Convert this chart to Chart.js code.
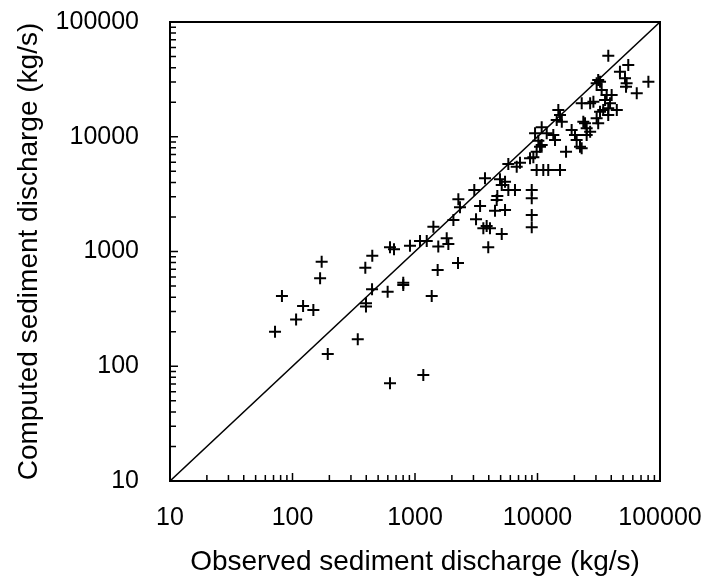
<!DOCTYPE html>
<html>
<head>
<meta charset="utf-8">
<script src="https://cdn.jsdelivr.net/npm/chart.js@4.4.1/dist/chart.umd.min.js"></script>
<style>
  html, body { margin: 0; padding: 0; background: #fff; }
  canvas { display: block; }
</style>
</head>
<body>
<canvas id="sediment-chart" width="710" height="587"></canvas>
<script>
// observed vs computed sediment discharge (kg/s)
const observed = [
    82, 72, 107, 122, 148, 173, 168, 194, 341, 393,
    448, 446, 398, 398, 598, 625, 674, 802, 802, 910,
    1099, 1247, 1369, 1531, 1169, 625, 1549, 1815, 1872, 2244,
    1413, 3963, 5106, 3846, 4093, 3613, 3149, 2058, 2259, 2329,
    3048, 3398, 3727, 4645, 4700, 4500, 4941, 5432, 5106, 5779,
    6549, 5432, 5779, 6765, 7197, 8974, 8974, 8974, 8974, 8690,
    9250, 9840, 11150, 12240, 15270, 9550, 10160, 10480, 9840, 10820,
    10820, 11890, 13460, 13900, 17100, 19000, 20230, 20870, 22230, 22940,
    24430, 25200, 37840, 55080, 47100, 80400, 64600, 51800, 53400, 52800,
    31300, 32400, 30400, 33400, 36700, 40300, 35600, 39100, 37800, 34400,
    44400, 37800, 28600, 26900, 22960, 14790, 15270, 14350, 15790, 32400,
    30400, 31300, 23660, 25200, 26900,
];
const computed = [
    409, 200, 256, 335, 309, 815, 584, 128, 172, 722,
    918, 469, 354, 331, 446, 1089, 1045, 535, 511, 1124,
    1236, 1236, 409, 690, 84, 71, 1103, 1303, 1161, 794,
    1645, 1089, 1422, 1667, 1592, 1592, 1910, 1884, 2851, 2427,
    3436, 2493, 4347, 2812, 3048, 2270, 4253, 4060, 3800, 3436,
    3436, 2301, 5800, 5490, 5940, 3436, 2911, 2080, 1624, 6490,
    6620, 5130, 5130, 5130, 5130, 10720, 9250, 8190, 7410, 8470,
    12080, 10720, 10350, 9370, 7410, 11450, 10350, 9370, 8190, 7930,
    13090, 10350, 50800, 42170, 36890, 30200, 23900, 32300, 29200, 27300,
    31300, 30200, 29200, 25500, 23100, 23100, 20900, 19540, 17680, 17100,
    17100, 15500, 20200, 19540, 19540, 17100, 15500, 14000, 13520, 16500,
    14500, 13100, 13520, 11870, 11070,
];

// 1:1 line
const lineObserved = [10, 100000];
const lineComputed = [10, 100000];

const decadeTicks = [10, 100, 1000, 10000, 100000];
const minorSteps  = [2, 3, 4, 5, 6, 7, 8, 9];

const FONT = "'Liberation Sans', Arial, sans-serif";

// inside tick marks + closed plot frame
const frameAndTicks = {
    id: 'frameAndTicks',
    afterDraw(chart) {
        const { ctx, chartArea: a, scales: { x, y } } = chart;
        ctx.save();
        ctx.strokeStyle = '#000';
        ctx.lineWidth = 1.5;
        const mark = (v, len) => {
            const px = x.getPixelForValue(v);
            const py = y.getPixelForValue(v);
            ctx.beginPath();
            ctx.moveTo(px, a.bottom);
            ctx.lineTo(px, a.bottom - len);
            ctx.moveTo(a.left, py);
            ctx.lineTo(a.left + len, py);
            ctx.stroke();
        };
        decadeTicks.forEach(d => {
            mark(d, 8);
            if (d < 100000) minorSteps.forEach(m => mark(d * m, 6));
        });
        ctx.lineWidth = 2;
        ctx.strokeRect(a.left, a.top, a.right - a.left, a.bottom - a.top);
        ctx.restore();
    },
};

const toPoints = (xs, ys) => xs.map((v, i) => ({ x: v, y: ys[i] }));

new Chart(document.getElementById('sediment-chart'), {
    type: 'scatter',
    data: {
        datasets: [
            {
                label: '1:1',
                data: toPoints(lineObserved, lineComputed),
                showLine: true,
                borderColor: '#000',
                borderWidth: 1.5,
                pointRadius: 0,
                fill: false,
            },
            {
                label: 'Sediment discharge',
                data: toPoints(observed, computed),
                pointStyle: 'cross',
                pointRadius: 6,
                pointBorderWidth: 2,
                borderColor: '#000',
                backgroundColor: '#000',
            },
        ],
    },
    options: {
        responsive: false,
        animation: false,
        devicePixelRatio: 1,
        layout: { padding: { top: 22, right: 50, bottom: 0, left: 0 } },
        scales: {
            x: {
                type: 'logarithmic',
                position: 'bottom',
                min: 10,
                max: 100000,
                grid: { display: false, drawTicks: false },
                border: { display: false },
                afterBuildTicks: s => { s.ticks = decadeTicks.map(v => ({ value: v })); },
                afterFit: s => { s.height = 106; s.paddingLeft = 0; s.paddingRight = 0; },
                ticks: {
                    autoSkip: false,
                    maxRotation: 0,
                    padding: 22,
                    color: '#000',
                    font: { family: FONT, size: 25 },
                    callback: v => String(v),
                },
                title: {
                    display: true,
                    text: 'Observed sediment discharge (kg/s)',
                    color: '#000',
                    font: { family: FONT, size: 28 },
                    padding: { top: 0, bottom: 8 },
                },
            },
            y: {
                type: 'logarithmic',
                position: 'left',
                min: 10,
                max: 100000,
                grid: { display: false, drawTicks: false },
                border: { display: false },
                afterBuildTicks: s => { s.ticks = decadeTicks.map(v => ({ value: v })); },
                afterFit: s => { s.width = 170; s.paddingTop = 0; s.paddingBottom = 0; },
                ticks: {
                    autoSkip: false,
                    padding: 31,
                    color: '#000',
                    font: { family: FONT, size: 25 },
                    callback: v => String(v),
                },
                title: {
                    display: true,
                    text: 'Computed sediment discharge (kg/s)',
                    color: '#000',
                    font: { family: FONT, size: 28 },
                    padding: { top: 12, bottom: 0 },
                },
            },
        },
        plugins: {
            legend: { display: false },
            tooltip: { enabled: false },
        },
    },
    plugins: [frameAndTicks],
});
</script>
</body>
</html>
